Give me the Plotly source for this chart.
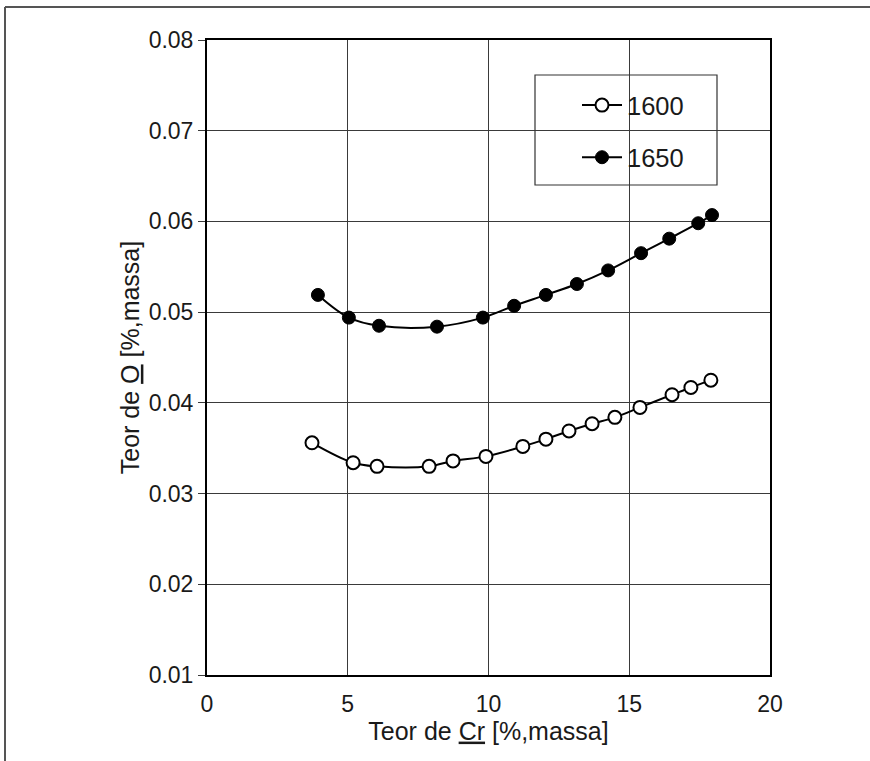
import plotly.graph_objects as go

# ---- data ----
cr_1600 = [3.73, 5.19, 6.04, 7.89, 8.74, 9.91, 11.22, 12.04, 12.86, 13.68, 14.49, 15.38, 16.52, 17.19, 17.90]
o_1600 = [0.0356, 0.0334, 0.0330, 0.0330, 0.0336, 0.0341, 0.0352, 0.0360, 0.0369, 0.0377, 0.0384, 0.0395, 0.0409, 0.0417, 0.0425]

cr_1650 = [3.94, 5.04, 6.11, 8.17, 9.80, 10.91, 12.04, 13.14, 14.25, 15.42, 16.42, 17.45, 17.94]
o_1650 = [0.0519, 0.0494, 0.0485, 0.0484, 0.0494, 0.0507, 0.0519, 0.0531, 0.0546, 0.0565, 0.0581, 0.0598, 0.0607]

series_names = ["1600", "1650"]
x_ticks = [0, 5, 10, 15, 20]
y_ticks = [0.01, 0.02, 0.03, 0.04, 0.05, 0.06, 0.07, 0.08]
x_title = "Teor de <u>Cr</u> [%,massa]"
y_title = "Teor de <u>O</u> [%,massa]"

FONT = "Liberation Sans, Arial, sans-serif"

fig = go.Figure()
fig.add_trace(go.Scatter(
    x=cr_1600, y=o_1600, name=series_names[0], mode="lines+markers",
    line=dict(color="black", width=2, shape="spline", smoothing=1),
    marker=dict(symbol="circle", size=13, color="white", line=dict(color="black", width=2)),
    legendgroup="a",
))
fig.add_trace(go.Scatter(
    x=cr_1650, y=o_1650, name=series_names[1], mode="lines+markers",
    line=dict(color="black", width=2, shape="spline", smoothing=1),
    marker=dict(symbol="circle", size=13, color="black", line=dict(color="black", width=1)),
    legendgroup="b",
))

L, R, T, B = 207, 100, 40, 86
W, H = 870, 761
pw, ph = W - L - R, H - T - B

def px_x(p):
    return (p - L) / pw

def px_y(p):
    return (H - B - p) / ph

shapes = [
    # outer frame (top and left edges)
    dict(type="line", xref="paper", yref="paper", x0=px_x(5), x1=px_x(875), y0=px_y(7), y1=px_y(7),
         line=dict(color="#555555", width=2)),
    dict(type="line", xref="paper", yref="paper", x0=px_x(5), x1=px_x(5), y0=px_y(7), y1=px_y(770),
         line=dict(color="#555555", width=2)),
    # legend box
    dict(type="rect", xref="paper", yref="paper", x0=px_x(535), x1=px_x(717), y0=px_y(185), y1=px_y(75),
         line=dict(color="#333333", width=1.2), fillcolor="rgba(0,0,0,0)", layer="above"),
]

fig.update_layout(
    width=W, height=H,
    margin=dict(l=L, r=R, t=T, b=B, autoexpand=False),
    paper_bgcolor="white", plot_bgcolor="white",
    font=dict(family=FONT, color="#1a1a1a", size=23),
    showlegend=True,
    legend=dict(x=px_x(577), y=px_y(82), xanchor="left", yanchor="top",
                bgcolor="rgba(0,0,0,0)", borderwidth=0,
                font=dict(size=25.5, family=FONT, color="#1a1a1a"),
                tracegroupgap=16, itemwidth=40),
    shapes=shapes,
    xaxis=dict(range=[0, 20], tickvals=x_ticks, ticktext=[str(v) for v in x_ticks],
               showgrid=True, gridcolor="#3a3a3a", gridwidth=1,
               showline=True, linecolor="black", linewidth=2, mirror=True,
               ticks="", zeroline=False, ticklabelstandoff=7,
               tickfont=dict(size=23),
               title=dict(text=x_title, font=dict(size=25), standoff=0)),
    yaxis=dict(range=[0.01, 0.08], tickvals=y_ticks, ticktext=[f"{v:.2f}" for v in y_ticks],
               showgrid=True, gridcolor="#3a3a3a", gridwidth=1,
               showline=True, linecolor="black", linewidth=2, mirror=True,
               ticks="outside", ticklen=7, tickcolor="#3a3a3a", zeroline=False,
               tickfont=dict(size=23),
               title=dict(text=y_title, font=dict(size=25), standoff=2)),
)

fig.write_html("out.html")
